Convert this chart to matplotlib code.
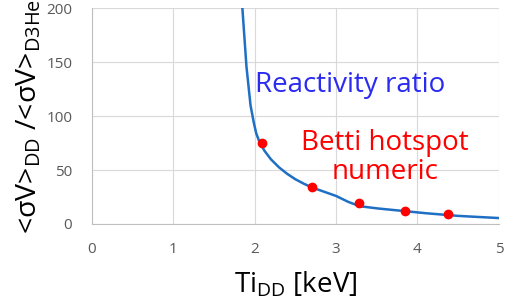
import matplotlib
matplotlib.use("Agg")
import matplotlib.pyplot as plt

# Reactivity ratio curve
ti_curve = [1.85, 1.90, 1.95, 1.99, 2.02, 2.06, 2.12, 2.20, 2.30, 2.40, 2.50, 2.60,
            2.70, 2.85, 3.00, 3.15, 3.29, 3.50, 3.70, 4.10, 4.50, 5.00]
ratio_curve = [200, 146, 110, 94, 84, 76, 68, 60, 52.5, 46.5, 41.5, 37.5,
               34, 30, 26, 20.5, 16.5, 14.5, 13, 10, 7.5, 5.5]

# Betti hotspot numeric points
ti_pts = [2.09, 2.71, 3.28, 3.85, 4.38]
ratio_pts = [75, 34, 19, 12.5, 9]

xticks = [0, 1, 2, 3, 4, 5]
yticks = [0, 50, 100, 150, 200]

plt.rcParams['font.family'] = ['Open Sans', 'DejaVu Sans']

fig = plt.figure(figsize=(5.05, 3.07), dpi=100)
ax = fig.add_axes([0.1816, 0.2704, 0.8064, 0.7026])

ax.plot(ti_curve, ratio_curve, color='#1F6FC5', lw=1.8, zorder=3)
ax.plot(ti_pts, ratio_pts, 'o', color='#FF0000', ms=6, zorder=4)

ax.set_xlim(0, 5)
ax.set_ylim(0, 200)
ax.set_xticks(xticks)
ax.set_yticks(yticks)
ax.grid(True, color='#D9D9D9', lw=0.8)
ax.set_axisbelow(True)
ax.tick_params(length=0, labelsize=11, colors='#595959')
ax.tick_params(axis='x', pad=13)
ax.tick_params(axis='y', pad=14)
for s in ['top', 'right']:
    ax.spines[s].set_visible(False)
for s in ['left', 'bottom']:
    ax.spines[s].set_color('#BFBFBF')
    ax.spines[s].set_linewidth(0.8)

ax.set_xlabel(r'Ti$_{\mathregular{DD}}$ [keV]', fontsize=20, labelpad=9)
ax.set_ylabel(r'<σV>$_{\mathregular{DD}}$ /<σV>$_{\mathregular{D3He}}$', fontsize=20.5, labelpad=2)

ax.text(2.0, 129, 'Reactivity ratio', color='#2A2AF0', fontsize=20, va='center', ha='left')
ax.text(3.6, 62, 'Betti hotspot\nnumeric', color='#FF0000', fontsize=20, va='center',
        ha='center', linespacing=1.05)

fig.savefig('out.png', dpi=100)
